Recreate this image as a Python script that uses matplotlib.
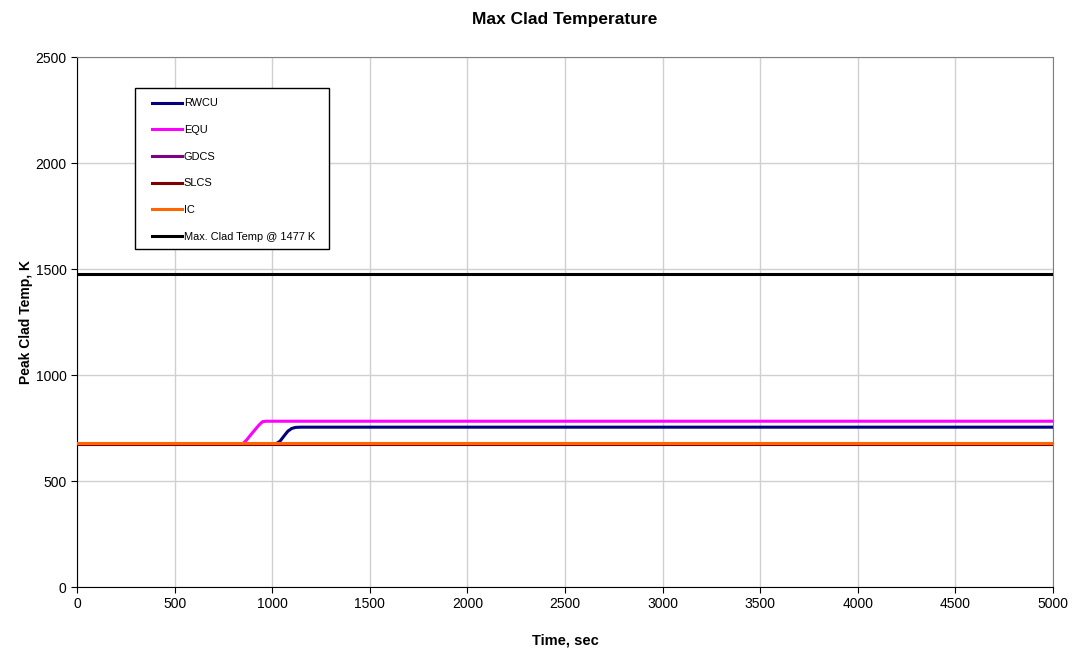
import numpy as np
import matplotlib.pyplot as plt
from matplotlib.patches import Rectangle

plt.rcParams['font.family'] = ['Liberation Sans', 'DejaVu Sans']

# data
t_flat = [0, 5000]

t_rwcu = [0, 1020, 1040, 1060, 1080, 1100, 1120, 1150, 5000]
rwcu = [676, 676, 688, 712, 735, 748, 753, 754, 754]

t_equ = [0, 850, 870, 890, 910, 930, 950, 970, 5000]
equ = [676, 676, 695, 718, 740, 762, 780, 782, 782]

t_gdcs = [0, 5000]
gdcs = [676, 676]
t_slcs = [0, 5000]
slcs = [676, 676]
t_ic = [0, 5000]
ic = [677, 677]
limit = [1477, 1477]

fig = plt.figure(figsize=(10.73, 6.51), dpi=100)
ax = fig.add_axes([0.0718, 0.0983, 0.9096, 0.8141])

ax.plot(t_rwcu, rwcu, color='#000080', lw=2.2, label='RWCU', zorder=3)
ax.plot(t_equ, equ, color='#ff00ff', lw=2.2, label='EQU', zorder=3)
ax.plot(t_gdcs, gdcs, color='#800080', lw=2.2, label='GDCS', zorder=3)
ax.plot(t_slcs, slcs, color='#800000', lw=2.2, label='SLCS', zorder=3)
ax.plot(t_ic, ic, color='#ff6600', lw=2.2, label='IC', zorder=4)
ax.plot(t_flat, limit, color='black', lw=2.2, label='Max. Clad Temp @ 1477 K', zorder=3)

ax.set_xlim(0, 5000)
ax.set_ylim(0, 2500)
ax.set_xticks(np.arange(0, 5001, 500))
ax.set_yticks(np.arange(0, 2501, 500))
ax.grid(True, color='#d0d0d0', lw=1)
ax.tick_params(labelsize=10, direction='out', length=4)
for s in ['top', 'right']:
    ax.spines[s].set_color('#808080')

ax.set_title('Max Clad Temperature', fontsize=12.5, fontweight='bold', pad=24)
ax.set_xlabel('Time, sec', fontsize=10.5, fontweight='bold', labelpad=16)
ax.set_ylabel('Peak Clad Temp, K', fontsize=10, fontweight='bold', labelpad=2)

# legend box drawn separately so its padding matches the original
ax.add_patch(Rectangle((0.0594, 0.6377), 0.1988, 0.3038, transform=ax.transAxes,
                       facecolor='white', edgecolor='black', lw=1, zorder=5))
leg = ax.legend(loc='upper left', bbox_to_anchor=(0.0768, 0.922), fontsize=7.9,
                frameon=False, handlelength=2.7, handletextpad=0.2,
                labelspacing=1.52, borderpad=0, borderaxespad=0)
leg.set_zorder(6)

fig.savefig('out.png', dpi=100)
